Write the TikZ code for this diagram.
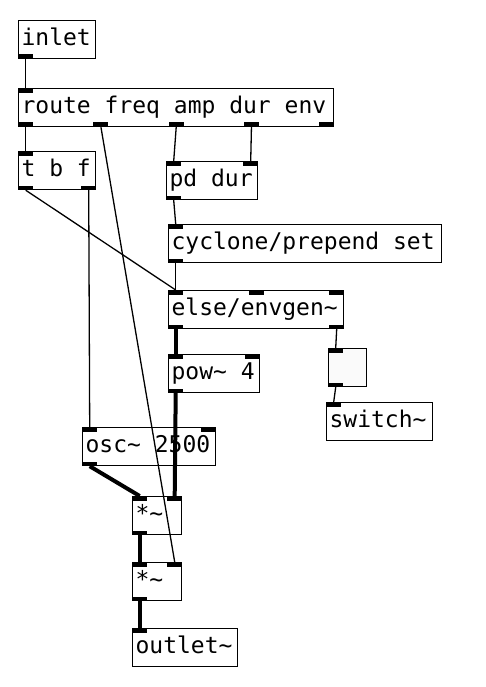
\documentclass[tikz,border=0pt]{standalone}
\usepackage{fontspec}
\setmainfont{DejaVu Sans Mono}
\usetikzlibrary{calc}
\newcommand\pdfont{\fontsize{23pt}{26pt}\selectfont}
\newcommand\pdspace{\spaceskip 13.85pt\relax\xspaceskip 13.85pt\relax}

\begin{document}
\begin{tikzpicture}[x=1pt, y=-1pt, font=\pdfont,
obj/.style={draw, line width=1.2pt, fill=white, anchor=north west, inner xsep=3pt, inner ysep=0pt, minimum height=38pt, text height=17pt, text depth=5pt, align=left, execute at begin node=\pdspace},
port/.style={fill=black, inner sep=0pt, minimum width=15pt, minimum height=4.5pt},
ctl/.style={line width=1.3pt},
sig/.style={line width=4pt}]
\useasboundingbox (0,0) rectangle (485,687);
\node[obj, text width=70.8pt] (inlet) at (18,20) {inlet};
\node[obj, text width=308.8pt] (route) at (18,88) {route freq amp dur env};
\node[obj, text width=70.8pt] (tbf) at (18,151) {t b f};
\node[obj, text width=84.8pt] (pddur) at (166,161) {pd dur};
\node[obj, text width=266.8pt] (prepend) at (168,224) {cyclone/prepend set};
\node[obj, text width=168.8pt] (envgen) at (168,290) {else/envgen\textasciitilde};
\node[obj, text width=84.8pt] (pow) at (168,354) {pow\textasciitilde{} 4};
\node[obj, fill=gray!4, text width=31.8pt] (tog) at (328,348) {};
\node[obj, text width=99.8pt] (switch) at (326,402) {switch\textasciitilde};
\node[obj, text width=126.8pt] (osc) at (82,427) {osc\textasciitilde{} 2500};
\node[obj, text width=42.8pt] (mul1) at (132,496) {*\textasciitilde};
\node[obj, text width=42.8pt] (mul2) at (132,562) {*\textasciitilde};
\node[obj, text width=98.8pt] (outlet) at (132,628) {outlet\textasciitilde};
% inlets and outlets
\foreach \b/\k/\f in {route/0/0, tbf/0/0, pddur/0/0, pddur/1/1, prepend/0/0, envgen/0/0, envgen/1/.5, envgen/2/1, pow/0/0, pow/1/1, tog/0/0, switch/0/0, osc/0/0, osc/1/1, mul1/0/0, mul1/1/1, mul2/0/0, mul2/1/1, outlet/0/0}
  \node[port, anchor=north west] (\b-i\k) at ($(\b.north west)!\f!([xshift=-15pt]\b.north east)$) {};
\foreach \b/\k/\f in {inlet/0/0, route/0/0, route/1/.25, route/2/.5, route/3/.75, route/4/1, tbf/0/0, tbf/1/1, pddur/0/0, prepend/0/0, envgen/0/0, envgen/1/1, pow/0/0, tog/0/0, osc/0/0, mul1/0/0, mul2/0/0}
  \node[port, anchor=south west] (\b-o\k) at ($(\b.south west)!\f!([xshift=-15pt]\b.south east)$) {};
% connections
\draw[ctl] (inlet-o0.south) -- (route-i0.north);
\draw[ctl] (route-o0.south) -- (tbf-i0.north);
\draw[ctl] (route-o1.south) -- (mul2-i1.north);
\draw[ctl] (route-o2.south) -- (pddur-i0.north);
\draw[ctl] (route-o3.south) -- (pddur-i1.north);
\draw[ctl] (tbf-o0.south) -- (envgen-i0.north);
\draw[ctl] (tbf-o1.south) -- (osc-i0.north);
\draw[ctl] (pddur-o0.south) -- (prepend-i0.north);
\draw[ctl] (prepend-o0.south) -- (envgen-i0.north);
\draw[ctl] (envgen-o1.south) -- (tog-i0.north);
\draw[ctl] (tog-o0.south) -- (switch-i0.north);
\draw[sig] (envgen-o0.south) -- (pow-i0.north);
\draw[sig] (pow-o0.south) -- (mul1-i1.north);
\draw[sig] (osc-o0.south) -- (mul1-i0.north);
\draw[sig] (mul1-o0.south) -- (mul2-i0.north);
\draw[sig] (mul2-o0.south) -- (outlet-i0.north);
\end{tikzpicture}
\end{document}
